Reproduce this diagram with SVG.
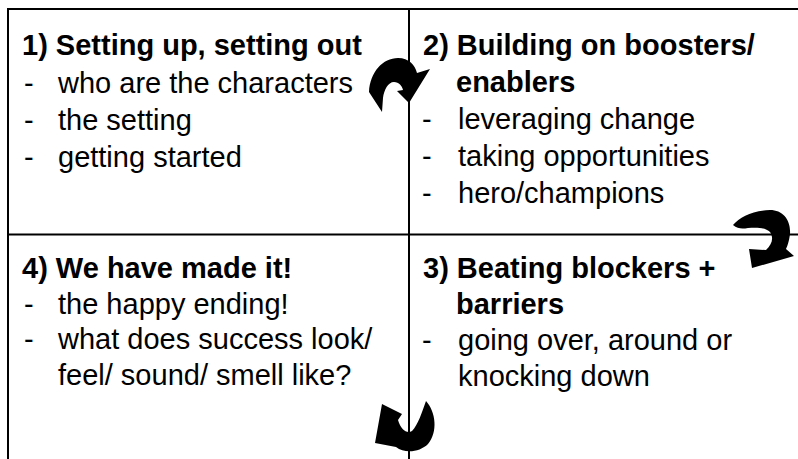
<svg xmlns="http://www.w3.org/2000/svg" width="798" height="459" viewBox="0 0 798 459">
<style>
  text { font-family: "Liberation Sans", Arial, sans-serif; font-size: 29px; fill: #000; }
  .h { font-weight: bold; }
  .grid { stroke: #000; stroke-width: 2; fill: none; }
  .arrow { fill: #000; stroke: none; }
</style>
<rect width="798" height="459" fill="#fff"/>
<g id="grid">
  <line class="grid" x1="7" y1="9" x2="798" y2="9"/>
  <line class="grid" x1="8" y1="8" x2="8" y2="459"/>
  <line class="grid" x1="409" y1="8" x2="409" y2="459"/>
  <line class="grid" x1="7" y1="234.5" x2="798" y2="234.5"/>
</g>
<g id="q1">
  <text class="h" x="22" y="55">1) Setting up, setting out</text>
  <text x="24" y="92.5">-</text><text x="58" y="92.5">who are the characters</text>
  <text x="24" y="129.5">-</text><text x="58" y="129.5">the setting</text>
  <text x="24" y="166.5">-</text><text x="58" y="166.5">getting started</text>
</g>
<g id="q2">
  <text class="h" x="423" y="55">2) Building on boosters/</text>
  <text class="h" x="456" y="91.5">enablers</text>
  <text x="422" y="129">-</text><text x="458" y="129">leveraging change</text>
  <text x="422" y="166">-</text><text x="458" y="166">taking opportunities</text>
  <text x="422" y="203">-</text><text x="458" y="203">hero/champions</text>
</g>
<g id="q3">
  <text class="h" x="423" y="278">3) Beating blockers +</text>
  <text class="h" x="456" y="314">barriers</text>
  <text x="422" y="350">-</text><text x="458" y="350">going over, around or</text>
  <text x="458" y="385.5">knocking down</text>
</g>
<g id="q4">
  <text class="h" x="22" y="278">4) We have made it!</text>
  <text x="24" y="313.5">-</text><text x="58" y="313.5">the happy ending!</text>
  <text x="24" y="349">-</text><text x="58" y="349">what does success look/</text>
  <text x="58" y="384.5">feel/ sound/ smell like?</text>
</g>
<g id="connectors">
  <path class="arrow" d="M369,92 C370,72 383,58 398,58 C409,58 415,65 417,73 L430,69 L409,103 L397,91 L403,90 C402,86 399,82 394,82 C388,82 384,90 383,98 L382,112 Z"/>
  <path class="arrow" d="M733,225 C740,217 752,211 770,210 C783,210 791,220 790,234 C789,242 787,247 786,249 L794,256 L752,268 L749,249 L766,250 C772,244 774,238 770,232 C766,228 758,227 748,228 C742,229 738,229 733,225 Z"/>
  <path class="arrow" d="M426,401 C436,412 438,432 428,444 C420,452 405,454 396,447 L375,443 L382,404 L402,414 L398,420 C401,430 407,434 412,431 C418,425 422,412 426,401 Z"/>
</g>
</svg>
